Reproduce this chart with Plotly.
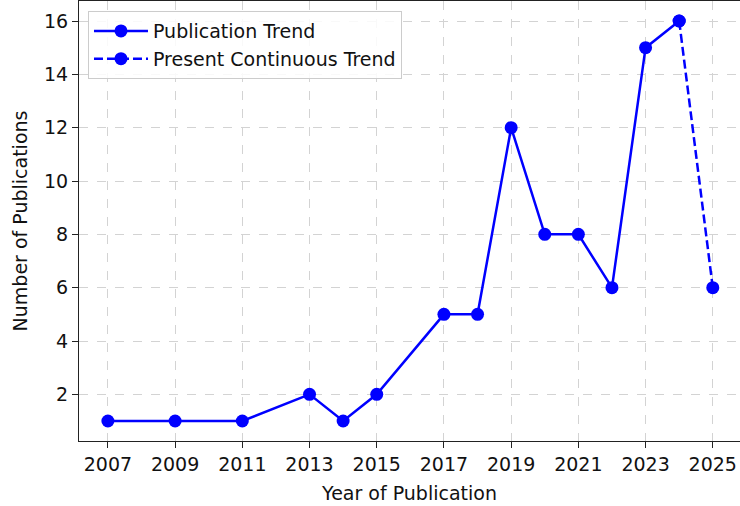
import plotly.graph_objects as go

years = [2007, 2009, 2011, 2013, 2014, 2015, 2017, 2018, 2019, 2020, 2021, 2022, 2023, 2024]
counts = [1, 1, 1, 2, 1, 2, 5, 5, 12, 8, 8, 6, 15, 16]
present_years = [2024, 2025]
present_counts = [16, 6]
x_ticks = [2007, 2009, 2011, 2013, 2015, 2017, 2019, 2021, 2023, 2025]
y_ticks = [2, 4, 6, 8, 10, 12, 14, 16]

FONT = "DejaVu Sans"
BLUE = "#0000ff"
FS = 19

fig = go.Figure()
fig.add_trace(go.Scatter(
    x=years, y=counts, mode="lines+markers", name="Publication Trend",
    line=dict(color=BLUE, width=2.5),
    marker=dict(color=BLUE, size=13),
))
fig.add_trace(go.Scatter(
    x=present_years, y=present_counts, mode="lines+markers", name="Present Continuous Trend",
    line=dict(color=BLUE, width=2.5, dash="9px,4px"),
    marker=dict(color=BLUE, size=13),
))

axis_common = dict(
    showline=True, linecolor="#222", linewidth=1.2, mirror=True,
    ticks="outside", ticklen=6, tickwidth=1.2, tickcolor="#222",
    showgrid=True, gridcolor="#d3d3d3", gridwidth=1, griddash="dash",
    zeroline=False, automargin=False,
    tickfont=dict(family=FONT, size=FS, color="#111"),
)

fig.update_layout(
    width=740, height=506,
    margin=dict(l=79, r=0, t=1, b=65),
    plot_bgcolor="white", paper_bgcolor="white",
    font=dict(family=FONT, size=FS, color="#111"),
    xaxis=dict(range=[2006.14, 2025.81], tickvals=x_ticks,
               title=dict(text="Year of Publication", font=dict(family=FONT, size=FS), standoff=12),
               **axis_common),
    yaxis=dict(range=[0.25, 16.75], tickvals=y_ticks,
               title=dict(text="Number of Publications", font=dict(family=FONT, size=FS), standoff=11),
               **axis_common),
    legend=dict(x=0.0136, y=0.977, xanchor="left", yanchor="top",
                bgcolor="rgba(255,255,255,0.85)", bordercolor="#cccccc", borderwidth=1,
                font=dict(family=FONT, size=FS, color="#111"),
                tracegroupgap=0, itemwidth=54),
    showlegend=True,
)

fig.write_html(
    "out.html",
    config={"displayModeBar": False},
    post_script="document.body.style.margin='0';document.body.style.overflow='hidden';",
)
